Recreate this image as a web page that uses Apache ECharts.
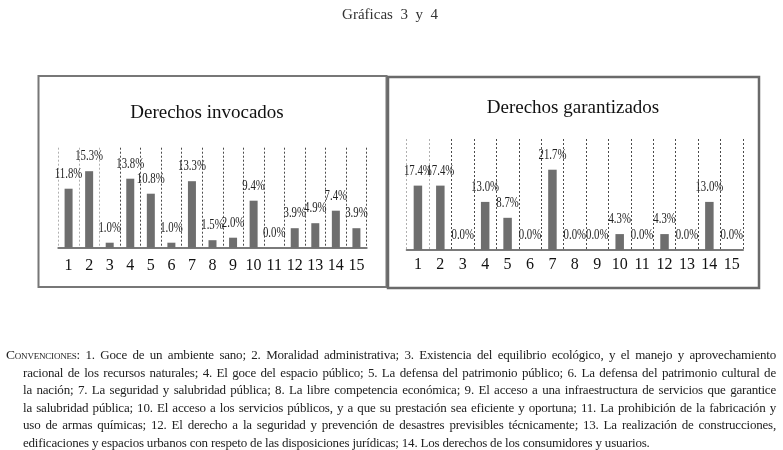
<!DOCTYPE html>
<html>
<head>
<meta charset="utf-8">
<script src="https://cdn.jsdelivr.net/npm/echarts@6/dist/echarts.min.js"></script>
<style>
html,body{margin:0;padding:0;background:#fff;}
#wrap{position:relative;width:783px;height:450px;overflow:hidden;background:#fff;}
#chart{position:absolute;left:0;top:0;width:783px;height:450px;}
#caption{position:absolute;left:6px;top:346px;width:770px;font-family:"Liberation Serif",serif;font-size:13px;letter-spacing:-0.2px;line-height:17.5px;color:#222;}
#caption div{white-space:nowrap;}
#caption div.ind{padding-left:17px;}
.sc{font-variant:small-caps;font-size:13.5px;}
</style>
</head>
<body>
<div id="wrap">
  <div id="chart"></div>
  <div id="caption"></div>
</div>
<script>
// ---- data ----
const pageTitle = 'Gráficas  3  y  4';
const leftTitle = 'Derechos invocados';
const rightTitle = 'Derechos garantizados';
const categories = ['1','2','3','4','5','6','7','8','9','10','11','12','13','14','15'];
const invocados = [11.8, 15.3, 1.0, 13.8, 10.8, 1.0, 13.3, 1.5, 2.0, 9.4, 0.0, 3.9, 4.9, 7.4, 3.9];
const garantizados = [17.4, 17.4, 0.0, 13.0, 8.7, 0.0, 21.7, 0.0, 0.0, 4.3, 0.0, 4.3, 0.0, 13.0, 0.0];
const captionLead = 'Convenciones';
const captionLines = [
  ': 1. Goce de un ambiente sano; 2. Moralidad administrativa; 3. Existencia del equilibrio ecológico, y el manejo y aprovechamiento',
  'racional de los recursos naturales; 4. El goce del espacio público; 5. La defensa del patrimonio público; 6. La defensa del patrimonio cultural de',
  'la nación; 7. La seguridad y salubridad pública; 8. La libre competencia económica; 9. El acceso a una infraestructura de servicios que garantice',
  'la salubridad pública; 10. El acceso a los servicios públicos, y a que su prestación sea eficiente y oportuna; 11. La prohibición de la fabricación y',
  'uso de armas químicas; 12. El derecho a la seguridad y prevención de desastres previsibles técnicamente; 13. La realización de construcciones,',
  'edificaciones y espacios urbanos con respeto de las disposiciones jurídicas; 14. Los derechos de los consumidores y usuarios.'
];

// ---- chart ----
const FONT = '"Liberation Serif", "Times New Roman", serif';
const chart = echarts.init(document.getElementById('chart'), null, {renderer: 'canvas'});

function splitColors(light) {
  const arr = [];
  for (let i = 0; i <= categories.length; i++) arr.push(i < light ? '#b0b0b0' : '#4a4a4a');
  return arr;
}

function xAxisCfg(gridIndex, margin, light) {
  return {
    type: 'category', gridIndex: gridIndex, data: categories, boundaryGap: true,
    axisLine: {show: true, lineStyle: {color: '#7a7a7a', width: 2}},
    axisTick: {show: false},
    axisLabel: {interval: 0, margin: margin, fontFamily: FONT, fontSize: 16, color: '#111'},
    splitLine: {show: true, interval: 0, lineStyle: {type: [2, 2], width: 1, color: splitColors(light)}}
  };
}

const baseOption = {
  animation: false,
  backgroundColor: 'transparent',
  grid: [
    {left: 58.3, top: 147.7, width: 308.4, height: 100},
    {left: 406.7, top: 139, width: 336.3, height: 111}
  ],
  xAxis: [xAxisCfg(0, 10, 3), xAxisCfg(1, 7, 2)],
  yAxis: [
    {type: 'value', gridIndex: 0, min: 0, max: 20, show: false},
    {type: 'value', gridIndex: 1, min: 0, max: 30, show: false}
  ],
  series: [
    {type: 'bar', xAxisIndex: 0, yAxisIndex: 0, data: invocados, barWidth: 8,
     itemStyle: {color: '#6e6e6e'}},
    {type: 'bar', xAxisIndex: 1, yAxisIndex: 1, data: garantizados, barWidth: 8.5,
     itemStyle: {color: '#6e6e6e'}}
  ]
};
chart.setOption(baseOption);

const graphics = [
  {type: 'rect', shape: {x: 38.5, y: 76, width: 348, height: 211}, style: {fill: 'none', stroke: '#777', lineWidth: 2}, z: 0},
  {type: 'rect', shape: {x: 388, y: 77, width: 371, height: 211}, style: {fill: 'none', stroke: '#6a6a6a', lineWidth: 2.5}, z: 0},
  {type: 'text', x: 390, y: 15, style: {text: pageTitle, font: '15px ' + FONT, fill: '#333', textAlign: 'center', textVerticalAlign: 'middle'}},
  {type: 'text', x: 207, y: 113, style: {text: leftTitle, font: '19px ' + FONT, fill: '#111', textAlign: 'center', textVerticalAlign: 'middle'}},
  {type: 'text', x: 573, y: 108, style: {text: rightTitle, font: '19px ' + FONT, fill: '#111', textAlign: 'center', textVerticalAlign: 'middle'}}
];

function addValueLabels(seriesIndex, values) {
  values.forEach(function (v, i) {
    const p = chart.convertToPixel({seriesIndex: seriesIndex}, [i, v]);
    graphics.push({
      type: 'text', x: p[0], y: p[1] - 15, scaleX: 0.72, z: 10,
      style: {text: v.toFixed(1) + '%', font: '15px ' + FONT, fill: '#222', textAlign: 'center', textVerticalAlign: 'middle'}
    });
  });
}
addValueLabels(0, invocados);
addValueLabels(1, garantizados);
chart.setOption({graphic: graphics});

// ---- caption (justified lines) ----
const cap = document.getElementById('caption');
captionLines.forEach(function (line, i) {
  const d = document.createElement('div');
  if (i > 0) d.className = 'ind';
  const s = document.createElement('span');
  if (i === 0) {
    const sc = document.createElement('span');
    sc.className = 'sc';
    sc.textContent = captionLead;
    s.appendChild(sc);
  }
  s.appendChild(document.createTextNode(line));
  d.appendChild(s);
  cap.appendChild(d);
});
Array.prototype.forEach.call(cap.children, function (d, i) {
  if (i === cap.children.length - 1) return;
  const s = d.firstChild;
  const natural = s.getBoundingClientRect().width;
  const target = d.clientWidth - (i > 0 ? 17 : 0);
  const spaces = (s.textContent.match(/ /g) || []).length;
  if (spaces > 0) s.style.wordSpacing = ((target - natural) / spaces) + 'px';
});
</script>
</body>
</html>
